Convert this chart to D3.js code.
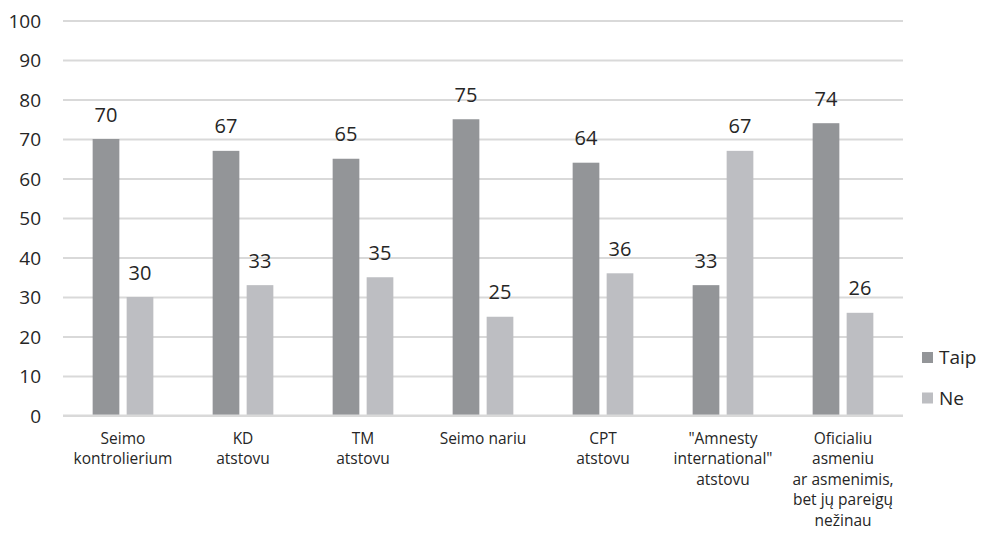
<!DOCTYPE html>
<html>
<head>
<meta charset="utf-8">
<script src="https://cdn.jsdelivr.net/npm/d3@7"></script>
<style>
  html, body { margin: 0; padding: 0; background: #fff; }
  svg { display: block; font-family: "Open Sans", sans-serif; }
</style>
</head>
<body>
<svg id="chart" width="987" height="535"></svg>
<script>
const categories = [
  ["Seimo", "kontrolierium"],
  ["KD", "atstovu"],
  ["TM", "atstovu"],
  ["Seimo nariu"],
  ["CPT", "atstovu"],
  ["\"Amnesty", "international\"", "atstovu"],
  ["Oficialiu", "asmeniu", "ar asmenimis,", "bet jų pareigų", "nežinau"]
];
const seriesNames = ["Taip", "Ne"];
const taip = [70, 67, 65, 75, 64, 33, 74];
const ne = [30, 33, 35, 25, 36, 67, 26];
const yTicks = [0, 10, 20, 30, 40, 50, 60, 70, 80, 90, 100];
const colors = ["#939598", "#BDBEC2"];

const svg = d3.select("#chart");
const mLeft = 63, mRight = 903, mTop = 20.5, mBottom = 415.5;

const x = d3.scaleBand().domain(d3.range(categories.length)).range([mLeft, mRight]).paddingInner(0).paddingOuter(0);
const y = d3.scaleLinear().domain([0, 100]).range([mBottom, mTop]);
const barW = 26.7, barGap = 7.3;
const x1 = d3.scaleOrdinal().domain([0, 1]).range([-(barW + barGap / 2), barGap / 2]);

// gridlines
const yAxis = d3.axisLeft(y).tickValues(yTicks).tickSize(-(mRight - mLeft)).tickFormat(d3.format("d"));
const gy = svg.append("g").attr("transform", `translate(${mLeft},0)`).call(yAxis);
gy.select(".domain").remove();
gy.selectAll(".tick line").attr("stroke", "#D9D9D9").attr("stroke-width", 2);
gy.selectAll(".tick text")
  .attr("x", -22).attr("dy", "0.35em")
  .attr("fill", "#262626").style("font-size", "19px").style("font-family", "'Open Sans', sans-serif");

// bars
const data = [taip, ne];
data.forEach((vals, si) => {
  const g = svg.append("g");
  g.selectAll("rect").data(vals).join("rect")
    .attr("x", (d, i) => x(i) + x.bandwidth() / 2 + x1(si))
    .attr("y", d => y(d))
    .attr("width", barW)
    .attr("height", d => y(0) - y(d))
    .attr("fill", colors[si]);
  g.selectAll("text").data(vals).join("text")
    .attr("x", (d, i) => x(i) + x.bandwidth() / 2 + x1(si) + barW / 2)
    .attr("y", d => y(d) - 17.5)
    .attr("text-anchor", "middle")
    .attr("fill", "#262626")
    .style("font-size", "20px")
    .text(d => d);
});

// x axis line
svg.append("line").attr("x1", mLeft).attr("x2", mRight).attr("y1", y(0)).attr("y2", y(0))
  .attr("stroke", "#D9D9D9").attr("stroke-width", 2);

// category labels
const xAxis = d3.axisBottom(x).tickSize(0).tickFormat("");
const gx = svg.append("g").attr("transform", `translate(0,${mBottom})`).call(xAxis);
gx.select(".domain").remove();
gx.selectAll(".tick").each(function(d) {
  const t = d3.select(this).append("text")
    .attr("text-anchor", "middle")
    .attr("fill", "#262626")
    .style("font-size", "15.5px")
    .style("font-family", "'Open Sans', sans-serif");
  categories[d].forEach((line, li) => {
    t.append("tspan").attr("x", 0).attr("y", 28 + li * 20.6).text(line);
  });
});

// legend
const legendY = [357.5, 398];
seriesNames.forEach((name, i) => {
  svg.append("rect").attr("x", 922).attr("y", legendY[i] - 5.5).attr("width", 11).attr("height", 11).attr("fill", colors[i]);
  svg.append("text").attr("x", 939).attr("y", legendY[i]).attr("dy", "0.35em")
    .attr("fill", "#262626").style("font-size", "19px").text(name);
});
</script>
</body>
</html>
